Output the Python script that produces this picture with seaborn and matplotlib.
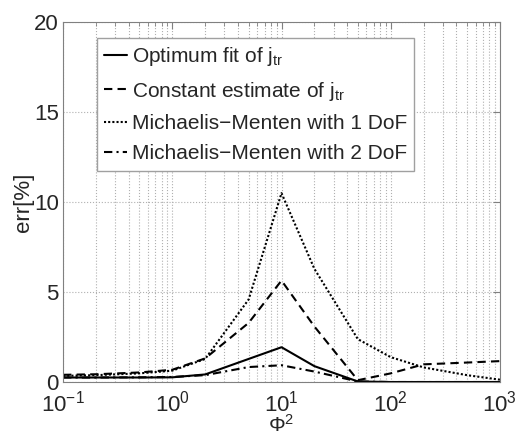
import numpy as np
import pandas as pd
import matplotlib
matplotlib.use("Agg")
import matplotlib.pyplot as plt
import seaborn as sns

# values (x = Phi^2, y = err in %)
phi2 = [0.1, 0.2, 0.5, 1, 2, 5, 10, 20, 50, 100, 200, 500, 1000]
optimum = [0.27, 0.27, 0.27, 0.28, 0.44, 1.3, 1.95, 0.9, 0.05, 0.02, 0.02, 0.02, 0.02]
constant = [0.42, 0.45, 0.55, 0.7, 1.33, 3.3, 5.65, 3.1, 0.12, 0.5, 1.0, 1.1, 1.18]
mm1 = [0.36, 0.4, 0.5, 0.65, 1.3, 4.6, 10.5, 6.3, 2.4, 1.4, 0.83, 0.4, 0.15]
mm2 = [0.27, 0.27, 0.28, 0.3, 0.4, 0.85, 0.95, 0.6, 0.05, 0.02, 0.02, 0.02, 0.02]

labels = [r"Optimum fit of j$_{\mathrm{tr}}$",
          r"Constant estimate of j$_{\mathrm{tr}}$",
          "Michaelis\u2212Menten with 1 DoF",
          "Michaelis\u2212Menten with 2 DoF"]

df = pd.DataFrame({"phi2": phi2 * 4,
                   "err": optimum + constant + mm1 + mm2,
                   "series": np.repeat(labels, len(phi2))})

sns.set_style("white")
plt.rcParams["font.family"] = ["Liberation Sans", "DejaVu Sans"]
plt.rcParams["mathtext.fontset"] = "custom"
plt.rcParams["mathtext.rm"] = "Liberation Sans"
plt.rcParams["mathtext.it"] = "Liberation Sans:italic"
plt.rcParams["mathtext.sf"] = "Liberation Sans"

fig = plt.figure(figsize=(5.17, 4.38), dpi=100)
ax = fig.add_axes([0.122, 0.127, 0.845, 0.823])

sns.lineplot(data=df, x="phi2", y="err", style="series", color="black",
             dashes=["", (4, 2.5), (1, 1), (4, 2, 1, 2)], linewidth=1.5, ax=ax)

ax.set_xscale("log")
ax.set_xlim(0.1, 1000)
ax.set_ylim(0, 20)
ax.set_yticks([0, 5, 10, 15, 20])
ax.grid(True, which="major", linestyle=":", color="#b0b0b0", linewidth=0.8)
ax.grid(True, which="minor", axis="x", linestyle=":", color="#b0b0b0", linewidth=0.8)
ax.tick_params(axis="both", which="both", direction="in", top=True, right=True,
               labelsize=16, color="#808080")
ax.tick_params(axis="both", which="major", length=5)
ax.tick_params(axis="both", which="minor", length=3)
ax.tick_params(axis="x", which="both", pad=6)
ax.tick_params(axis="y", which="both", pad=3)
for s in ax.spines.values():
    s.set_color("#808080")

ax.set_xlabel(r"$\Phi^2$", fontsize=15, labelpad=-2)
ax.set_ylabel("err[%]", fontsize=16, labelpad=0)

leg = ax.legend(loc="upper left", bbox_to_anchor=(0.078, 0.956), fontsize=15,
                handlelength=1.1, handletextpad=0.2, labelspacing=0.55,
                fancybox=False, framealpha=1, borderaxespad=0, borderpad=0.35)
leg.get_frame().set_edgecolor("#a0a0a0")
leg.get_frame().set_linewidth(1.0)

fig.savefig("out.png", dpi=100)
